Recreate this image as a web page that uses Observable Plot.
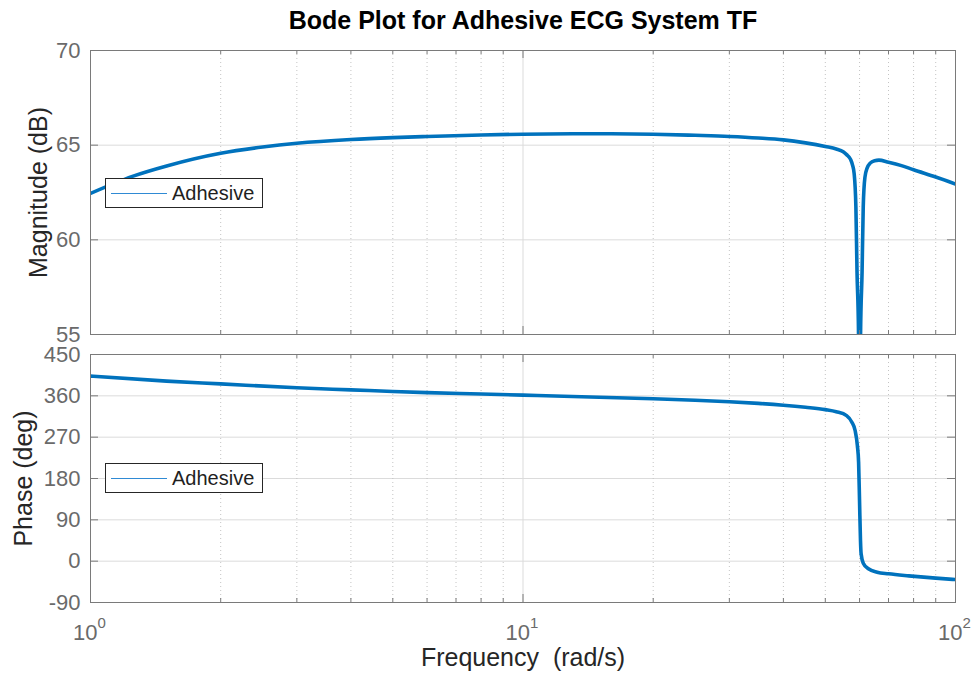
<!DOCTYPE html>
<html><head><meta charset="utf-8">
<script src="https://cdn.jsdelivr.net/npm/d3@7"></script>
<script src="https://cdn.jsdelivr.net/npm/@observablehq/plot@0.6"></script>
<style>
html,body{margin:0;padding:0;background:#fff;}
#chart{position:relative;width:975px;height:677px;overflow:hidden;font-family:"Liberation Sans",Arial,sans-serif;}
#chart svg{position:absolute;left:0;}
.legend{position:absolute;left:105px;width:156px;height:28px;border:1px solid #262626;background:#fff;font-family:"Liberation Sans",Arial,sans-serif;z-index:2;}
.legend .sw{position:absolute;left:5px;top:14px;width:56px;height:1px;background:#2f8ad4;}
.legend span{position:absolute;left:66px;top:4px;font-size:20px;color:#1f1f1f;line-height:20px;}
</style></head><body><div id="chart"></div>
<script>
// ---- text ----
const title = "Bode Plot for Adhesive ECG System TF";
const seriesName = "Adhesive";
const xLabel = "Frequency\u00a0 (rad/s)";
const magLabel = "Magnitude (dB)";
const phaseLabel = "Phase (deg)";

// ---- data ----
const magFreq = [1, 1.25, 1.5, 2, 2.5, 3, 4, 5, 6, 8, 10, 13, 16, 20, 25, 30, 35, 40, 45, 50, 53, 55, 56, 57.2, 57.8, 58.3, 58.84, 59.2, 59.68, 60, 60.32, 60.81, 61.19, 61.74, 62.5, 63.5, 65, 66.5, 70, 75, 80, 90, 100];
const magDb = [62.45, 63.35, 63.9, 64.57, 64.9, 65.1, 65.3, 65.4, 65.46, 65.54, 65.58, 65.6, 65.6, 65.58, 65.52, 65.46, 65.38, 65.28, 65.12, 64.93, 64.8, 64.65, 64.5, 64.25, 63.95, 63.5, 61.75, 58.3, 55.0, 45, 55.0, 58.3, 61.75, 63.3, 63.8, 64.05, 64.18, 64.21, 64.1, 63.92, 63.7, 63.32, 62.95];
const phaseFreq = [1, 1.5, 2, 3, 4, 5, 6, 8, 10, 15, 20, 25, 30, 35, 40, 45, 50, 53, 56, 57.6, 58.6, 59.3, 59.7, 60, 60.3, 60.5, 61.2, 62.9, 65.9, 70, 78, 90, 100];
const phaseDeg = [403, 392, 386, 377.5, 373, 369.5, 367, 364, 361.5, 357, 353.5, 350.5, 347, 343.5, 339.5, 335, 330, 325.5, 317, 302.6, 284.5, 252, 215, 130, 45, 16, -4.4, -16.6, -24, -27.5, -32, -37, -40];

// ---- ticks ----
const magTicks = [55, 60, 65, 70];
const phaseTicks = [-90, 0, 90, 180, 270, 360, 450];
const decadeTicks = [1, 10, 100];
const decadeExp = ["0", "1", "2"];
const minorTicks = [2, 3, 4, 5, 6, 7, 8, 9, 20, 30, 40, 50, 60, 70, 80, 90];

const magData = magFreq.map((f, i) => ({f, v: magDb[i]}));
const phaseData = phaseFreq.map((f, i) => ({f, v: phaseDeg[i]}));

const W = 975, ML = 90, MR = 20;
const FONT = "Liberation Sans, Arial, sans-serif";
const AX = "#7a7a7a", TICKTXT = "#6a6a6a", LBL = "#262626";

function panel({height, marginTop, marginBottom, domain, ticks, data, yLabel, labelDx, extra}) {
  const fw = W - ML - MR, fh = height - marginTop - marginBottom;
  return Plot.plot({
    width: W, height, marginLeft: ML, marginRight: MR, marginTop, marginBottom,
    style: {fontFamily: FONT, background: "transparent", overflow: "visible"},
    x: {type: "log", domain: [1, 100], axis: null},
    y: {domain, axis: null},
    marks: [
      Plot.gridY(ticks, {y: d => d, stroke: "#dbdbdb", strokeOpacity: 1}),
      Plot.gridX([10], {x: d => d, stroke: "#dbdbdb", strokeOpacity: 1}),
      Plot.gridX(minorTicks, {x: d => d, stroke: "#c4c4c4", strokeOpacity: 1, strokeDasharray: "1,3"}),
      Plot.line(data, {x: "f", y: "v", stroke: "#0072BD", strokeWidth: 3.6, curve: "monotone-x", clip: true}),
      Plot.frame({stroke: AX}),
      Plot.tickX(minorTicks, {x: d => d, stroke: AX, insetTop: fh - 4}),
      Plot.tickX(minorTicks, {x: d => d, stroke: AX, insetBottom: fh - 4}),
      Plot.tickX(decadeTicks, {x: d => d, stroke: AX, insetTop: fh - 8}),
      Plot.tickX(decadeTicks, {x: d => d, stroke: AX, insetBottom: fh - 8}),
      Plot.tickY(ticks, {y: d => d, stroke: AX, insetRight: fw - 8}),
      Plot.tickY(ticks, {y: d => d, stroke: AX, insetLeft: fw - 8}),
      Plot.text(ticks, {y: d => d, text: d => String(d), frameAnchor: "left", textAnchor: "end", lineAnchor: "middle", dx: -10, fontSize: 22, fill: TICKTXT}),
      Plot.text([yLabel], {text: d => d, frameAnchor: "left", textAnchor: "middle", lineAnchor: "middle", rotate: -90, dx: labelDx, fontSize: 25, fill: LBL}),
      ...(extra || [])
    ]
  });
}

const magPlot = panel({
  height: 344, marginTop: 50, marginBottom: 10, domain: [55, 70], ticks: magTicks,
  data: magData, yLabel: magLabel, labelDx: -52,
  extra: [
    Plot.text([title], {text: d => d, frameAnchor: "top", textAnchor: "middle", lineAnchor: "middle", dy: -30, fontSize: 25, fontWeight: "bold", fill: "#000"})
  ]
});
const phasePlot = panel({
  height: 333, marginTop: 10, marginBottom: 75, domain: [-90, 450], ticks: phaseTicks,
  data: phaseData, yLabel: phaseLabel, labelDx: -67,
  extra: [
    Plot.text(decadeTicks, {x: d => d, text: () => "10", frameAnchor: "bottom", textAnchor: "end", lineAnchor: "middle", dx: 7, dy: 30.5, fontSize: 22, fill: TICKTXT}),
    Plot.text(decadeTicks, {x: d => d, text: (d, i) => decadeExp[i], frameAnchor: "bottom", textAnchor: "start", lineAnchor: "middle", dx: 7, dy: 20.5, fontSize: 15, fill: TICKTXT}),
    Plot.text([xLabel], {text: d => d, frameAnchor: "bottom", textAnchor: "middle", lineAnchor: "middle", dy: 55, fontSize: 25, fill: LBL})
  ]
});

const chart = document.getElementById("chart");
magPlot.style.top = "0px";
phasePlot.style.top = "344px";
chart.appendChild(magPlot);
chart.appendChild(phasePlot);

function addLegend(topPx) {
  const d = document.createElement("div");
  d.className = "legend";
  d.style.top = topPx + "px";
  const sw = document.createElement("div");
  sw.className = "sw";
  const s = document.createElement("span");
  s.textContent = seriesName;
  d.appendChild(sw); d.appendChild(s);
  chart.appendChild(d);
}
addLegend(178);
addLegend(463);
</script></body></html>
